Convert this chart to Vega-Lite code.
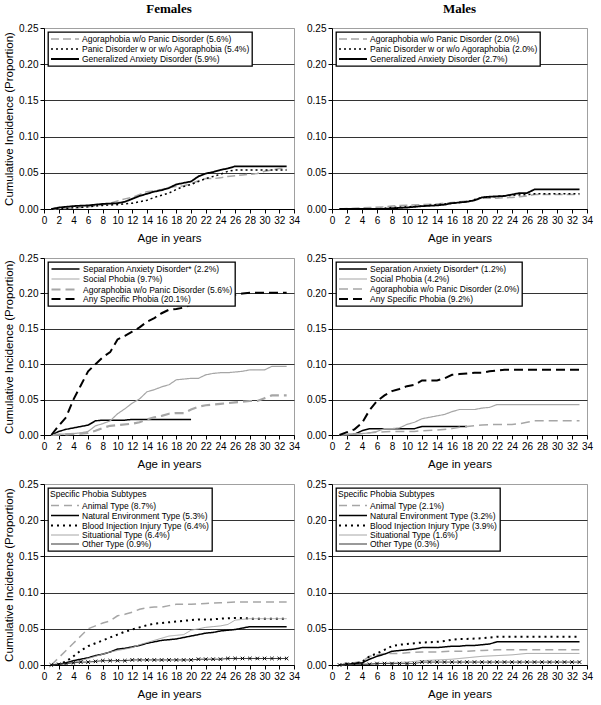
{
"$schema": "https://vega.github.io/schema/vega-lite/v6.json",
"padding": {"left": 3, "top": 2, "right": 2, "bottom": 2},
"columns": 2,
"spacing": {"row": 8, "column": 5},
"resolve": {"scale": {"x": "independent", "y": "independent", "color": "independent", "strokeDash": "independent", "strokeWidth": "independent"}, "legend": {"color": "independent", "strokeDash": "independent", "strokeWidth": "independent"}},
"datasets": {
"tl": [
{"s":"Agoraphobia w/o Panic Disorder (5.6%)","x":1,"y":0},{"s":"Agoraphobia w/o Panic Disorder (5.6%)","x":4,"y":0.001},{"s":"Agoraphobia w/o Panic Disorder (5.6%)","x":6,"y":0.003},{"s":"Agoraphobia w/o Panic Disorder (5.6%)","x":8,"y":0.006},{"s":"Agoraphobia w/o Panic Disorder (5.6%)","x":9,"y":0.008},{"s":"Agoraphobia w/o Panic Disorder (5.6%)","x":10,"y":0.011},{"s":"Agoraphobia w/o Panic Disorder (5.6%)","x":11,"y":0.014},{"s":"Agoraphobia w/o Panic Disorder (5.6%)","x":12,"y":0.016},{"s":"Agoraphobia w/o Panic Disorder (5.6%)","x":13,"y":0.02},{"s":"Agoraphobia w/o Panic Disorder (5.6%)","x":14,"y":0.024},{"s":"Agoraphobia w/o Panic Disorder (5.6%)","x":15,"y":0.025},{"s":"Agoraphobia w/o Panic Disorder (5.6%)","x":16,"y":0.027},{"s":"Agoraphobia w/o Panic Disorder (5.6%)","x":17,"y":0.03},{"s":"Agoraphobia w/o Panic Disorder (5.6%)","x":18,"y":0.031},{"s":"Agoraphobia w/o Panic Disorder (5.6%)","x":19,"y":0.032},{"s":"Agoraphobia w/o Panic Disorder (5.6%)","x":20,"y":0.035},{"s":"Agoraphobia w/o Panic Disorder (5.6%)","x":21,"y":0.039},{"s":"Agoraphobia w/o Panic Disorder (5.6%)","x":22,"y":0.042},{"s":"Agoraphobia w/o Panic Disorder (5.6%)","x":23,"y":0.042},{"s":"Agoraphobia w/o Panic Disorder (5.6%)","x":24,"y":0.043},{"s":"Agoraphobia w/o Panic Disorder (5.6%)","x":25,"y":0.045},{"s":"Agoraphobia w/o Panic Disorder (5.6%)","x":26,"y":0.046},{"s":"Agoraphobia w/o Panic Disorder (5.6%)","x":27,"y":0.047},{"s":"Agoraphobia w/o Panic Disorder (5.6%)","x":28,"y":0.048},{"s":"Agoraphobia w/o Panic Disorder (5.6%)","x":29,"y":0.049},{"s":"Agoraphobia w/o Panic Disorder (5.6%)","x":30,"y":0.052},{"s":"Agoraphobia w/o Panic Disorder (5.6%)","x":31,"y":0.054},{"s":"Agoraphobia w/o Panic Disorder (5.6%)","x":32,"y":0.056},{"s":"Agoraphobia w/o Panic Disorder (5.6%)","x":33,"y":0.056},
{"s":"Panic Disorder w or w/o Agoraphobia (5.4%)","x":1,"y":0},{"s":"Panic Disorder w or w/o Agoraphobia (5.4%)","x":3,"y":0.001},{"s":"Panic Disorder w or w/o Agoraphobia (5.4%)","x":6,"y":0.003},{"s":"Panic Disorder w or w/o Agoraphobia (5.4%)","x":8,"y":0.005},{"s":"Panic Disorder w or w/o Agoraphobia (5.4%)","x":10,"y":0.006},{"s":"Panic Disorder w or w/o Agoraphobia (5.4%)","x":11,"y":0.007},{"s":"Panic Disorder w or w/o Agoraphobia (5.4%)","x":12,"y":0.008},{"s":"Panic Disorder w or w/o Agoraphobia (5.4%)","x":13,"y":0.01},{"s":"Panic Disorder w or w/o Agoraphobia (5.4%)","x":14,"y":0.012},{"s":"Panic Disorder w or w/o Agoraphobia (5.4%)","x":15,"y":0.016},{"s":"Panic Disorder w or w/o Agoraphobia (5.4%)","x":16,"y":0.019},{"s":"Panic Disorder w or w/o Agoraphobia (5.4%)","x":17,"y":0.022},{"s":"Panic Disorder w or w/o Agoraphobia (5.4%)","x":18,"y":0.027},{"s":"Panic Disorder w or w/o Agoraphobia (5.4%)","x":19,"y":0.031},{"s":"Panic Disorder w or w/o Agoraphobia (5.4%)","x":20,"y":0.034},{"s":"Panic Disorder w or w/o Agoraphobia (5.4%)","x":21,"y":0.038},{"s":"Panic Disorder w or w/o Agoraphobia (5.4%)","x":22,"y":0.042},{"s":"Panic Disorder w or w/o Agoraphobia (5.4%)","x":23,"y":0.045},{"s":"Panic Disorder w or w/o Agoraphobia (5.4%)","x":24,"y":0.048},{"s":"Panic Disorder w or w/o Agoraphobia (5.4%)","x":25,"y":0.052},{"s":"Panic Disorder w or w/o Agoraphobia (5.4%)","x":26,"y":0.054},{"s":"Panic Disorder w or w/o Agoraphobia (5.4%)","x":33,"y":0.054},
{"s":"Generalized Anxiety Disorder (5.9%)","x":1,"y":0},{"s":"Generalized Anxiety Disorder (5.9%)","x":2,"y":0.002},{"s":"Generalized Anxiety Disorder (5.9%)","x":4,"y":0.004},{"s":"Generalized Anxiety Disorder (5.9%)","x":6,"y":0.005},{"s":"Generalized Anxiety Disorder (5.9%)","x":7,"y":0.006},{"s":"Generalized Anxiety Disorder (5.9%)","x":8,"y":0.007},{"s":"Generalized Anxiety Disorder (5.9%)","x":10,"y":0.008},{"s":"Generalized Anxiety Disorder (5.9%)","x":11,"y":0.01},{"s":"Generalized Anxiety Disorder (5.9%)","x":12,"y":0.014},{"s":"Generalized Anxiety Disorder (5.9%)","x":13,"y":0.018},{"s":"Generalized Anxiety Disorder (5.9%)","x":14,"y":0.021},{"s":"Generalized Anxiety Disorder (5.9%)","x":15,"y":0.024},{"s":"Generalized Anxiety Disorder (5.9%)","x":16,"y":0.026},{"s":"Generalized Anxiety Disorder (5.9%)","x":17,"y":0.029},{"s":"Generalized Anxiety Disorder (5.9%)","x":18,"y":0.034},{"s":"Generalized Anxiety Disorder (5.9%)","x":19,"y":0.036},{"s":"Generalized Anxiety Disorder (5.9%)","x":20,"y":0.038},{"s":"Generalized Anxiety Disorder (5.9%)","x":21,"y":0.045},{"s":"Generalized Anxiety Disorder (5.9%)","x":22,"y":0.049},{"s":"Generalized Anxiety Disorder (5.9%)","x":23,"y":0.051},{"s":"Generalized Anxiety Disorder (5.9%)","x":24,"y":0.054},{"s":"Generalized Anxiety Disorder (5.9%)","x":25,"y":0.056},{"s":"Generalized Anxiety Disorder (5.9%)","x":26,"y":0.059},{"s":"Generalized Anxiety Disorder (5.9%)","x":33,"y":0.059}
],
"tr": [
{"s":"Agoraphobia w/o Panic Disorder (2.0%)","x":1,"y":0},{"s":"Agoraphobia w/o Panic Disorder (2.0%)","x":3,"y":0.001},{"s":"Agoraphobia w/o Panic Disorder (2.0%)","x":5,"y":0.002},{"s":"Agoraphobia w/o Panic Disorder (2.0%)","x":7,"y":0.003},{"s":"Agoraphobia w/o Panic Disorder (2.0%)","x":8,"y":0.004},{"s":"Agoraphobia w/o Panic Disorder (2.0%)","x":9,"y":0.005},{"s":"Agoraphobia w/o Panic Disorder (2.0%)","x":12,"y":0.006},{"s":"Agoraphobia w/o Panic Disorder (2.0%)","x":14,"y":0.007},{"s":"Agoraphobia w/o Panic Disorder (2.0%)","x":16,"y":0.009},{"s":"Agoraphobia w/o Panic Disorder (2.0%)","x":17,"y":0.01},{"s":"Agoraphobia w/o Panic Disorder (2.0%)","x":19,"y":0.012},{"s":"Agoraphobia w/o Panic Disorder (2.0%)","x":20,"y":0.015},{"s":"Agoraphobia w/o Panic Disorder (2.0%)","x":22,"y":0.015},{"s":"Agoraphobia w/o Panic Disorder (2.0%)","x":24,"y":0.016},{"s":"Agoraphobia w/o Panic Disorder (2.0%)","x":25,"y":0.017},{"s":"Agoraphobia w/o Panic Disorder (2.0%)","x":26,"y":0.018},{"s":"Agoraphobia w/o Panic Disorder (2.0%)","x":27,"y":0.02},{"s":"Agoraphobia w/o Panic Disorder (2.0%)","x":33,"y":0.02},
{"s":"Panic Disorder w or w/o Agoraphobia (2.0%)","x":1,"y":0},{"s":"Panic Disorder w or w/o Agoraphobia (2.0%)","x":6,"y":0},{"s":"Panic Disorder w or w/o Agoraphobia (2.0%)","x":8,"y":0.002},{"s":"Panic Disorder w or w/o Agoraphobia (2.0%)","x":10,"y":0.003},{"s":"Panic Disorder w or w/o Agoraphobia (2.0%)","x":12,"y":0.004},{"s":"Panic Disorder w or w/o Agoraphobia (2.0%)","x":14,"y":0.006},{"s":"Panic Disorder w or w/o Agoraphobia (2.0%)","x":16,"y":0.008},{"s":"Panic Disorder w or w/o Agoraphobia (2.0%)","x":18,"y":0.01},{"s":"Panic Disorder w or w/o Agoraphobia (2.0%)","x":19,"y":0.013},{"s":"Panic Disorder w or w/o Agoraphobia (2.0%)","x":20,"y":0.016},{"s":"Panic Disorder w or w/o Agoraphobia (2.0%)","x":22,"y":0.017},{"s":"Panic Disorder w or w/o Agoraphobia (2.0%)","x":24,"y":0.019},{"s":"Panic Disorder w or w/o Agoraphobia (2.0%)","x":26,"y":0.02},{"s":"Panic Disorder w or w/o Agoraphobia (2.0%)","x":27,"y":0.021},{"s":"Panic Disorder w or w/o Agoraphobia (2.0%)","x":33,"y":0.021},
{"s":"Generalized Anxiety Disorder (2.7%)","x":1,"y":0},{"s":"Generalized Anxiety Disorder (2.7%)","x":7,"y":0},{"s":"Generalized Anxiety Disorder (2.7%)","x":8,"y":0.001},{"s":"Generalized Anxiety Disorder (2.7%)","x":10,"y":0.002},{"s":"Generalized Anxiety Disorder (2.7%)","x":11,"y":0.003},{"s":"Generalized Anxiety Disorder (2.7%)","x":12,"y":0.004},{"s":"Generalized Anxiety Disorder (2.7%)","x":14,"y":0.005},{"s":"Generalized Anxiety Disorder (2.7%)","x":15,"y":0.006},{"s":"Generalized Anxiety Disorder (2.7%)","x":16,"y":0.008},{"s":"Generalized Anxiety Disorder (2.7%)","x":17,"y":0.009},{"s":"Generalized Anxiety Disorder (2.7%)","x":18,"y":0.01},{"s":"Generalized Anxiety Disorder (2.7%)","x":19,"y":0.012},{"s":"Generalized Anxiety Disorder (2.7%)","x":20,"y":0.016},{"s":"Generalized Anxiety Disorder (2.7%)","x":21,"y":0.017},{"s":"Generalized Anxiety Disorder (2.7%)","x":23,"y":0.018},{"s":"Generalized Anxiety Disorder (2.7%)","x":24,"y":0.02},{"s":"Generalized Anxiety Disorder (2.7%)","x":25,"y":0.022},{"s":"Generalized Anxiety Disorder (2.7%)","x":26,"y":0.022},{"s":"Generalized Anxiety Disorder (2.7%)","x":27,"y":0.027},{"s":"Generalized Anxiety Disorder (2.7%)","x":33,"y":0.027}
],
"ml": [
{"s":"Separation Anxiety Disorder* (2.2%)","x":1,"y":0},{"s":"Separation Anxiety Disorder* (2.2%)","x":2,"y":0.005},{"s":"Separation Anxiety Disorder* (2.2%)","x":3,"y":0.008},{"s":"Separation Anxiety Disorder* (2.2%)","x":4,"y":0.01},{"s":"Separation Anxiety Disorder* (2.2%)","x":5,"y":0.012},{"s":"Separation Anxiety Disorder* (2.2%)","x":6,"y":0.014},{"s":"Separation Anxiety Disorder* (2.2%)","x":7,"y":0.02},{"s":"Separation Anxiety Disorder* (2.2%)","x":8,"y":0.021},{"s":"Separation Anxiety Disorder* (2.2%)","x":11,"y":0.021},{"s":"Separation Anxiety Disorder* (2.2%)","x":12,"y":0.022},{"s":"Separation Anxiety Disorder* (2.2%)","x":20,"y":0.022},
{"s":"Social Phobia (9.7%)","x":1,"y":0},{"s":"Social Phobia (9.7%)","x":2,"y":0.001},{"s":"Social Phobia (9.7%)","x":4,"y":0.002},{"s":"Social Phobia (9.7%)","x":5,"y":0.003},{"s":"Social Phobia (9.7%)","x":6,"y":0.005},{"s":"Social Phobia (9.7%)","x":7,"y":0.013},{"s":"Social Phobia (9.7%)","x":8,"y":0.016},{"s":"Social Phobia (9.7%)","x":9,"y":0.02},{"s":"Social Phobia (9.7%)","x":10,"y":0.03},{"s":"Social Phobia (9.7%)","x":11,"y":0.037},{"s":"Social Phobia (9.7%)","x":12,"y":0.045},{"s":"Social Phobia (9.7%)","x":13,"y":0.051},{"s":"Social Phobia (9.7%)","x":14,"y":0.061},{"s":"Social Phobia (9.7%)","x":15,"y":0.064},{"s":"Social Phobia (9.7%)","x":16,"y":0.068},{"s":"Social Phobia (9.7%)","x":17,"y":0.071},{"s":"Social Phobia (9.7%)","x":18,"y":0.078},{"s":"Social Phobia (9.7%)","x":19,"y":0.079},{"s":"Social Phobia (9.7%)","x":20,"y":0.08},{"s":"Social Phobia (9.7%)","x":21,"y":0.08},{"s":"Social Phobia (9.7%)","x":22,"y":0.085},{"s":"Social Phobia (9.7%)","x":23,"y":0.087},{"s":"Social Phobia (9.7%)","x":24,"y":0.088},{"s":"Social Phobia (9.7%)","x":25,"y":0.088},{"s":"Social Phobia (9.7%)","x":26,"y":0.089},{"s":"Social Phobia (9.7%)","x":27,"y":0.09},{"s":"Social Phobia (9.7%)","x":28,"y":0.092},{"s":"Social Phobia (9.7%)","x":30,"y":0.092},{"s":"Social Phobia (9.7%)","x":31,"y":0.097},{"s":"Social Phobia (9.7%)","x":33,"y":0.097},
{"s":"Agoraphobia w/o Panic Disorder (5.6%)","x":1,"y":0},{"s":"Agoraphobia w/o Panic Disorder (5.6%)","x":3,"y":0.001},{"s":"Agoraphobia w/o Panic Disorder (5.6%)","x":5,"y":0.002},{"s":"Agoraphobia w/o Panic Disorder (5.6%)","x":6,"y":0.003},{"s":"Agoraphobia w/o Panic Disorder (5.6%)","x":7,"y":0.006},{"s":"Agoraphobia w/o Panic Disorder (5.6%)","x":8,"y":0.01},{"s":"Agoraphobia w/o Panic Disorder (5.6%)","x":9,"y":0.013},{"s":"Agoraphobia w/o Panic Disorder (5.6%)","x":10,"y":0.014},{"s":"Agoraphobia w/o Panic Disorder (5.6%)","x":12,"y":0.016},{"s":"Agoraphobia w/o Panic Disorder (5.6%)","x":13,"y":0.018},{"s":"Agoraphobia w/o Panic Disorder (5.6%)","x":14,"y":0.022},{"s":"Agoraphobia w/o Panic Disorder (5.6%)","x":15,"y":0.025},{"s":"Agoraphobia w/o Panic Disorder (5.6%)","x":16,"y":0.027},{"s":"Agoraphobia w/o Panic Disorder (5.6%)","x":17,"y":0.03},{"s":"Agoraphobia w/o Panic Disorder (5.6%)","x":18,"y":0.031},{"s":"Agoraphobia w/o Panic Disorder (5.6%)","x":19,"y":0.031},{"s":"Agoraphobia w/o Panic Disorder (5.6%)","x":20,"y":0.036},{"s":"Agoraphobia w/o Panic Disorder (5.6%)","x":21,"y":0.04},{"s":"Agoraphobia w/o Panic Disorder (5.6%)","x":22,"y":0.042},{"s":"Agoraphobia w/o Panic Disorder (5.6%)","x":23,"y":0.043},{"s":"Agoraphobia w/o Panic Disorder (5.6%)","x":24,"y":0.044},{"s":"Agoraphobia w/o Panic Disorder (5.6%)","x":25,"y":0.045},{"s":"Agoraphobia w/o Panic Disorder (5.6%)","x":26,"y":0.046},{"s":"Agoraphobia w/o Panic Disorder (5.6%)","x":27,"y":0.047},{"s":"Agoraphobia w/o Panic Disorder (5.6%)","x":28,"y":0.048},{"s":"Agoraphobia w/o Panic Disorder (5.6%)","x":29,"y":0.048},{"s":"Agoraphobia w/o Panic Disorder (5.6%)","x":30,"y":0.052},{"s":"Agoraphobia w/o Panic Disorder (5.6%)","x":31,"y":0.056},{"s":"Agoraphobia w/o Panic Disorder (5.6%)","x":33,"y":0.056},
{"s":"Any Specific Phobia (20.1%)","x":1,"y":0},{"s":"Any Specific Phobia (20.1%)","x":2,"y":0.013},{"s":"Any Specific Phobia (20.1%)","x":3,"y":0.025},{"s":"Any Specific Phobia (20.1%)","x":4,"y":0.05},{"s":"Any Specific Phobia (20.1%)","x":5,"y":0.07},{"s":"Any Specific Phobia (20.1%)","x":6,"y":0.09},{"s":"Any Specific Phobia (20.1%)","x":7,"y":0.1},{"s":"Any Specific Phobia (20.1%)","x":8,"y":0.11},{"s":"Any Specific Phobia (20.1%)","x":9,"y":0.117},{"s":"Any Specific Phobia (20.1%)","x":10,"y":0.135},{"s":"Any Specific Phobia (20.1%)","x":11,"y":0.14},{"s":"Any Specific Phobia (20.1%)","x":12,"y":0.146},{"s":"Any Specific Phobia (20.1%)","x":13,"y":0.152},{"s":"Any Specific Phobia (20.1%)","x":14,"y":0.16},{"s":"Any Specific Phobia (20.1%)","x":15,"y":0.165},{"s":"Any Specific Phobia (20.1%)","x":16,"y":0.172},{"s":"Any Specific Phobia (20.1%)","x":17,"y":0.177},{"s":"Any Specific Phobia (20.1%)","x":18,"y":0.178},{"s":"Any Specific Phobia (20.1%)","x":19,"y":0.18},{"s":"Any Specific Phobia (20.1%)","x":20,"y":0.184},{"s":"Any Specific Phobia (20.1%)","x":21,"y":0.186},{"s":"Any Specific Phobia (20.1%)","x":22,"y":0.187},{"s":"Any Specific Phobia (20.1%)","x":23,"y":0.188},{"s":"Any Specific Phobia (20.1%)","x":24,"y":0.19},{"s":"Any Specific Phobia (20.1%)","x":25,"y":0.193},{"s":"Any Specific Phobia (20.1%)","x":26,"y":0.198},{"s":"Any Specific Phobia (20.1%)","x":27,"y":0.2},{"s":"Any Specific Phobia (20.1%)","x":28,"y":0.201},{"s":"Any Specific Phobia (20.1%)","x":33,"y":0.201}
],
"mr": [
{"s":"Separation Anxiety Disorder* (1.2%)","x":1,"y":0},{"s":"Separation Anxiety Disorder* (1.2%)","x":3,"y":0.001},{"s":"Separation Anxiety Disorder* (1.2%)","x":4,"y":0.006},{"s":"Separation Anxiety Disorder* (1.2%)","x":5,"y":0.009},{"s":"Separation Anxiety Disorder* (1.2%)","x":11,"y":0.009},{"s":"Separation Anxiety Disorder* (1.2%)","x":12,"y":0.012},{"s":"Separation Anxiety Disorder* (1.2%)","x":18,"y":0.012},
{"s":"Social Phobia (4.2%)","x":1,"y":0},{"s":"Social Phobia (4.2%)","x":3,"y":0.001},{"s":"Social Phobia (4.2%)","x":5,"y":0.003},{"s":"Social Phobia (4.2%)","x":6,"y":0.005},{"s":"Social Phobia (4.2%)","x":7,"y":0.009},{"s":"Social Phobia (4.2%)","x":8,"y":0.009},{"s":"Social Phobia (4.2%)","x":9,"y":0.01},{"s":"Social Phobia (4.2%)","x":10,"y":0.015},{"s":"Social Phobia (4.2%)","x":11,"y":0.018},{"s":"Social Phobia (4.2%)","x":12,"y":0.023},{"s":"Social Phobia (4.2%)","x":13,"y":0.025},{"s":"Social Phobia (4.2%)","x":14,"y":0.027},{"s":"Social Phobia (4.2%)","x":15,"y":0.029},{"s":"Social Phobia (4.2%)","x":16,"y":0.033},{"s":"Social Phobia (4.2%)","x":17,"y":0.036},{"s":"Social Phobia (4.2%)","x":19,"y":0.036},{"s":"Social Phobia (4.2%)","x":20,"y":0.038},{"s":"Social Phobia (4.2%)","x":21,"y":0.039},{"s":"Social Phobia (4.2%)","x":22,"y":0.043},{"s":"Social Phobia (4.2%)","x":33,"y":0.043},
{"s":"Agoraphobia w/o Panic Disorder (2.0%)","x":1,"y":0},{"s":"Agoraphobia w/o Panic Disorder (2.0%)","x":4,"y":0.002},{"s":"Agoraphobia w/o Panic Disorder (2.0%)","x":6,"y":0.004},{"s":"Agoraphobia w/o Panic Disorder (2.0%)","x":8,"y":0.005},{"s":"Agoraphobia w/o Panic Disorder (2.0%)","x":11,"y":0.005},{"s":"Agoraphobia w/o Panic Disorder (2.0%)","x":12,"y":0.006},{"s":"Agoraphobia w/o Panic Disorder (2.0%)","x":14,"y":0.007},{"s":"Agoraphobia w/o Panic Disorder (2.0%)","x":16,"y":0.009},{"s":"Agoraphobia w/o Panic Disorder (2.0%)","x":17,"y":0.011},{"s":"Agoraphobia w/o Panic Disorder (2.0%)","x":18,"y":0.012},{"s":"Agoraphobia w/o Panic Disorder (2.0%)","x":19,"y":0.013},{"s":"Agoraphobia w/o Panic Disorder (2.0%)","x":20,"y":0.014},{"s":"Agoraphobia w/o Panic Disorder (2.0%)","x":22,"y":0.015},{"s":"Agoraphobia w/o Panic Disorder (2.0%)","x":24,"y":0.015},{"s":"Agoraphobia w/o Panic Disorder (2.0%)","x":25,"y":0.016},{"s":"Agoraphobia w/o Panic Disorder (2.0%)","x":26,"y":0.018},{"s":"Agoraphobia w/o Panic Disorder (2.0%)","x":27,"y":0.02},{"s":"Agoraphobia w/o Panic Disorder (2.0%)","x":33,"y":0.02},
{"s":"Any Specific Phobia (9.2%)","x":1,"y":0},{"s":"Any Specific Phobia (9.2%)","x":2,"y":0.004},{"s":"Any Specific Phobia (9.2%)","x":3,"y":0.008},{"s":"Any Specific Phobia (9.2%)","x":4,"y":0.017},{"s":"Any Specific Phobia (9.2%)","x":5,"y":0.035},{"s":"Any Specific Phobia (9.2%)","x":6,"y":0.048},{"s":"Any Specific Phobia (9.2%)","x":7,"y":0.056},{"s":"Any Specific Phobia (9.2%)","x":8,"y":0.062},{"s":"Any Specific Phobia (9.2%)","x":9,"y":0.065},{"s":"Any Specific Phobia (9.2%)","x":10,"y":0.069},{"s":"Any Specific Phobia (9.2%)","x":11,"y":0.071},{"s":"Any Specific Phobia (9.2%)","x":12,"y":0.077},{"s":"Any Specific Phobia (9.2%)","x":14,"y":0.077},{"s":"Any Specific Phobia (9.2%)","x":15,"y":0.08},{"s":"Any Specific Phobia (9.2%)","x":16,"y":0.085},{"s":"Any Specific Phobia (9.2%)","x":17,"y":0.086},{"s":"Any Specific Phobia (9.2%)","x":18,"y":0.087},{"s":"Any Specific Phobia (9.2%)","x":19,"y":0.088},{"s":"Any Specific Phobia (9.2%)","x":20,"y":0.088},{"s":"Any Specific Phobia (9.2%)","x":21,"y":0.09},{"s":"Any Specific Phobia (9.2%)","x":22,"y":0.091},{"s":"Any Specific Phobia (9.2%)","x":23,"y":0.092},{"s":"Any Specific Phobia (9.2%)","x":33,"y":0.092}
],
"bl": [
{"s":"Animal Type (8.7%)","x":1,"y":0},{"s":"Animal Type (8.7%)","x":2,"y":0.01},{"s":"Animal Type (8.7%)","x":3,"y":0.02},{"s":"Animal Type (8.7%)","x":4,"y":0.03},{"s":"Animal Type (8.7%)","x":5,"y":0.04},{"s":"Animal Type (8.7%)","x":6,"y":0.05},{"s":"Animal Type (8.7%)","x":7,"y":0.054},{"s":"Animal Type (8.7%)","x":8,"y":0.058},{"s":"Animal Type (8.7%)","x":9,"y":0.061},{"s":"Animal Type (8.7%)","x":10,"y":0.068},{"s":"Animal Type (8.7%)","x":11,"y":0.07},{"s":"Animal Type (8.7%)","x":12,"y":0.073},{"s":"Animal Type (8.7%)","x":13,"y":0.077},{"s":"Animal Type (8.7%)","x":14,"y":0.079},{"s":"Animal Type (8.7%)","x":15,"y":0.08},{"s":"Animal Type (8.7%)","x":16,"y":0.08},{"s":"Animal Type (8.7%)","x":17,"y":0.082},{"s":"Animal Type (8.7%)","x":18,"y":0.084},{"s":"Animal Type (8.7%)","x":20,"y":0.084},{"s":"Animal Type (8.7%)","x":22,"y":0.085},{"s":"Animal Type (8.7%)","x":24,"y":0.086},{"s":"Animal Type (8.7%)","x":26,"y":0.087},{"s":"Animal Type (8.7%)","x":33,"y":0.087},
{"s":"Natural Environment Type (5.3%)","x":1,"y":0},{"s":"Natural Environment Type (5.3%)","x":2,"y":0.001},{"s":"Natural Environment Type (5.3%)","x":3,"y":0.003},{"s":"Natural Environment Type (5.3%)","x":4,"y":0.006},{"s":"Natural Environment Type (5.3%)","x":5,"y":0.008},{"s":"Natural Environment Type (5.3%)","x":6,"y":0.01},{"s":"Natural Environment Type (5.3%)","x":7,"y":0.013},{"s":"Natural Environment Type (5.3%)","x":8,"y":0.015},{"s":"Natural Environment Type (5.3%)","x":9,"y":0.018},{"s":"Natural Environment Type (5.3%)","x":10,"y":0.022},{"s":"Natural Environment Type (5.3%)","x":11,"y":0.023},{"s":"Natural Environment Type (5.3%)","x":12,"y":0.025},{"s":"Natural Environment Type (5.3%)","x":13,"y":0.027},{"s":"Natural Environment Type (5.3%)","x":14,"y":0.03},{"s":"Natural Environment Type (5.3%)","x":15,"y":0.032},{"s":"Natural Environment Type (5.3%)","x":16,"y":0.034},{"s":"Natural Environment Type (5.3%)","x":17,"y":0.035},{"s":"Natural Environment Type (5.3%)","x":18,"y":0.036},{"s":"Natural Environment Type (5.3%)","x":19,"y":0.038},{"s":"Natural Environment Type (5.3%)","x":20,"y":0.04},{"s":"Natural Environment Type (5.3%)","x":21,"y":0.042},{"s":"Natural Environment Type (5.3%)","x":22,"y":0.044},{"s":"Natural Environment Type (5.3%)","x":23,"y":0.045},{"s":"Natural Environment Type (5.3%)","x":24,"y":0.047},{"s":"Natural Environment Type (5.3%)","x":25,"y":0.048},{"s":"Natural Environment Type (5.3%)","x":26,"y":0.049},{"s":"Natural Environment Type (5.3%)","x":27,"y":0.051},{"s":"Natural Environment Type (5.3%)","x":28,"y":0.053},{"s":"Natural Environment Type (5.3%)","x":33,"y":0.053},
{"s":"Blood Injection Injury Type (6.4%)","x":1,"y":0},{"s":"Blood Injection Injury Type (6.4%)","x":2,"y":0.001},{"s":"Blood Injection Injury Type (6.4%)","x":3,"y":0.005},{"s":"Blood Injection Injury Type (6.4%)","x":4,"y":0.012},{"s":"Blood Injection Injury Type (6.4%)","x":5,"y":0.02},{"s":"Blood Injection Injury Type (6.4%)","x":6,"y":0.026},{"s":"Blood Injection Injury Type (6.4%)","x":7,"y":0.03},{"s":"Blood Injection Injury Type (6.4%)","x":8,"y":0.034},{"s":"Blood Injection Injury Type (6.4%)","x":9,"y":0.038},{"s":"Blood Injection Injury Type (6.4%)","x":10,"y":0.042},{"s":"Blood Injection Injury Type (6.4%)","x":11,"y":0.046},{"s":"Blood Injection Injury Type (6.4%)","x":12,"y":0.049},{"s":"Blood Injection Injury Type (6.4%)","x":13,"y":0.052},{"s":"Blood Injection Injury Type (6.4%)","x":14,"y":0.055},{"s":"Blood Injection Injury Type (6.4%)","x":15,"y":0.057},{"s":"Blood Injection Injury Type (6.4%)","x":16,"y":0.058},{"s":"Blood Injection Injury Type (6.4%)","x":17,"y":0.059},{"s":"Blood Injection Injury Type (6.4%)","x":18,"y":0.06},{"s":"Blood Injection Injury Type (6.4%)","x":19,"y":0.061},{"s":"Blood Injection Injury Type (6.4%)","x":20,"y":0.062},{"s":"Blood Injection Injury Type (6.4%)","x":21,"y":0.063},{"s":"Blood Injection Injury Type (6.4%)","x":23,"y":0.063},{"s":"Blood Injection Injury Type (6.4%)","x":24,"y":0.064},{"s":"Blood Injection Injury Type (6.4%)","x":26,"y":0.065},{"s":"Blood Injection Injury Type (6.4%)","x":27,"y":0.065},{"s":"Blood Injection Injury Type (6.4%)","x":28,"y":0.064},{"s":"Blood Injection Injury Type (6.4%)","x":33,"y":0.064},
{"s":"Situational Type (6.4%)","x":1,"y":0},{"s":"Situational Type (6.4%)","x":3,"y":0.002},{"s":"Situational Type (6.4%)","x":4,"y":0.004},{"s":"Situational Type (6.4%)","x":5,"y":0.006},{"s":"Situational Type (6.4%)","x":6,"y":0.009},{"s":"Situational Type (6.4%)","x":7,"y":0.012},{"s":"Situational Type (6.4%)","x":8,"y":0.015},{"s":"Situational Type (6.4%)","x":9,"y":0.018},{"s":"Situational Type (6.4%)","x":10,"y":0.02},{"s":"Situational Type (6.4%)","x":11,"y":0.022},{"s":"Situational Type (6.4%)","x":12,"y":0.024},{"s":"Situational Type (6.4%)","x":13,"y":0.028},{"s":"Situational Type (6.4%)","x":14,"y":0.031},{"s":"Situational Type (6.4%)","x":15,"y":0.034},{"s":"Situational Type (6.4%)","x":16,"y":0.037},{"s":"Situational Type (6.4%)","x":17,"y":0.04},{"s":"Situational Type (6.4%)","x":18,"y":0.041},{"s":"Situational Type (6.4%)","x":19,"y":0.042},{"s":"Situational Type (6.4%)","x":20,"y":0.048},{"s":"Situational Type (6.4%)","x":21,"y":0.05},{"s":"Situational Type (6.4%)","x":22,"y":0.052},{"s":"Situational Type (6.4%)","x":23,"y":0.053},{"s":"Situational Type (6.4%)","x":24,"y":0.054},{"s":"Situational Type (6.4%)","x":25,"y":0.056},{"s":"Situational Type (6.4%)","x":26,"y":0.062},{"s":"Situational Type (6.4%)","x":27,"y":0.063},{"s":"Situational Type (6.4%)","x":28,"y":0.064},{"s":"Situational Type (6.4%)","x":33,"y":0.064},
{"s":"Other Type (0.9%)","x":1,"y":0},{"s":"Other Type (0.9%)","x":2,"y":0.001},{"s":"Other Type (0.9%)","x":3,"y":0.002},{"s":"Other Type (0.9%)","x":4,"y":0.003},{"s":"Other Type (0.9%)","x":5,"y":0.004},{"s":"Other Type (0.9%)","x":6,"y":0.004},{"s":"Other Type (0.9%)","x":7,"y":0.005},{"s":"Other Type (0.9%)","x":8,"y":0.006},{"s":"Other Type (0.9%)","x":9,"y":0.006},{"s":"Other Type (0.9%)","x":10,"y":0.006},{"s":"Other Type (0.9%)","x":11,"y":0.006},{"s":"Other Type (0.9%)","x":12,"y":0.007},{"s":"Other Type (0.9%)","x":13,"y":0.007},{"s":"Other Type (0.9%)","x":14,"y":0.007},{"s":"Other Type (0.9%)","x":15,"y":0.007},{"s":"Other Type (0.9%)","x":16,"y":0.007},{"s":"Other Type (0.9%)","x":17,"y":0.007},{"s":"Other Type (0.9%)","x":18,"y":0.007},{"s":"Other Type (0.9%)","x":19,"y":0.007},{"s":"Other Type (0.9%)","x":20,"y":0.007},{"s":"Other Type (0.9%)","x":21,"y":0.008},{"s":"Other Type (0.9%)","x":22,"y":0.008},{"s":"Other Type (0.9%)","x":23,"y":0.008},{"s":"Other Type (0.9%)","x":24,"y":0.008},{"s":"Other Type (0.9%)","x":25,"y":0.009},{"s":"Other Type (0.9%)","x":26,"y":0.009},{"s":"Other Type (0.9%)","x":27,"y":0.009},{"s":"Other Type (0.9%)","x":28,"y":0.009},{"s":"Other Type (0.9%)","x":29,"y":0.009},{"s":"Other Type (0.9%)","x":30,"y":0.009},{"s":"Other Type (0.9%)","x":31,"y":0.009},{"s":"Other Type (0.9%)","x":32,"y":0.009},{"s":"Other Type (0.9%)","x":33,"y":0.009}
],
"br": [
{"s":"Animal Type (2.1%)","x":1,"y":0},{"s":"Animal Type (2.1%)","x":4,"y":0.005},{"s":"Animal Type (2.1%)","x":5,"y":0.012},{"s":"Animal Type (2.1%)","x":6,"y":0.014},{"s":"Animal Type (2.1%)","x":7,"y":0.016},{"s":"Animal Type (2.1%)","x":9,"y":0.016},{"s":"Animal Type (2.1%)","x":10,"y":0.017},{"s":"Animal Type (2.1%)","x":12,"y":0.018},{"s":"Animal Type (2.1%)","x":14,"y":0.018},{"s":"Animal Type (2.1%)","x":16,"y":0.019},{"s":"Animal Type (2.1%)","x":18,"y":0.019},{"s":"Animal Type (2.1%)","x":20,"y":0.02},{"s":"Animal Type (2.1%)","x":22,"y":0.021},{"s":"Animal Type (2.1%)","x":33,"y":0.021},
{"s":"Natural Environment Type (3.2%)","x":1,"y":0},{"s":"Natural Environment Type (3.2%)","x":2,"y":0.001},{"s":"Natural Environment Type (3.2%)","x":3,"y":0.002},{"s":"Natural Environment Type (3.2%)","x":4,"y":0.003},{"s":"Natural Environment Type (3.2%)","x":5,"y":0.008},{"s":"Natural Environment Type (3.2%)","x":6,"y":0.012},{"s":"Natural Environment Type (3.2%)","x":7,"y":0.015},{"s":"Natural Environment Type (3.2%)","x":8,"y":0.019},{"s":"Natural Environment Type (3.2%)","x":9,"y":0.02},{"s":"Natural Environment Type (3.2%)","x":10,"y":0.021},{"s":"Natural Environment Type (3.2%)","x":11,"y":0.022},{"s":"Natural Environment Type (3.2%)","x":12,"y":0.024},{"s":"Natural Environment Type (3.2%)","x":14,"y":0.024},{"s":"Natural Environment Type (3.2%)","x":15,"y":0.025},{"s":"Natural Environment Type (3.2%)","x":16,"y":0.026},{"s":"Natural Environment Type (3.2%)","x":17,"y":0.026},{"s":"Natural Environment Type (3.2%)","x":18,"y":0.027},{"s":"Natural Environment Type (3.2%)","x":19,"y":0.027},{"s":"Natural Environment Type (3.2%)","x":20,"y":0.028},{"s":"Natural Environment Type (3.2%)","x":21,"y":0.029},{"s":"Natural Environment Type (3.2%)","x":22,"y":0.032},{"s":"Natural Environment Type (3.2%)","x":33,"y":0.032},
{"s":"Blood Injection Injury Type (3.9%)","x":1,"y":0},{"s":"Blood Injection Injury Type (3.9%)","x":2,"y":0.002},{"s":"Blood Injection Injury Type (3.9%)","x":3,"y":0.002},{"s":"Blood Injection Injury Type (3.9%)","x":4,"y":0.004},{"s":"Blood Injection Injury Type (3.9%)","x":5,"y":0.012},{"s":"Blood Injection Injury Type (3.9%)","x":6,"y":0.016},{"s":"Blood Injection Injury Type (3.9%)","x":7,"y":0.021},{"s":"Blood Injection Injury Type (3.9%)","x":8,"y":0.026},{"s":"Blood Injection Injury Type (3.9%)","x":9,"y":0.028},{"s":"Blood Injection Injury Type (3.9%)","x":10,"y":0.029},{"s":"Blood Injection Injury Type (3.9%)","x":11,"y":0.03},{"s":"Blood Injection Injury Type (3.9%)","x":12,"y":0.031},{"s":"Blood Injection Injury Type (3.9%)","x":14,"y":0.032},{"s":"Blood Injection Injury Type (3.9%)","x":15,"y":0.033},{"s":"Blood Injection Injury Type (3.9%)","x":16,"y":0.035},{"s":"Blood Injection Injury Type (3.9%)","x":17,"y":0.036},{"s":"Blood Injection Injury Type (3.9%)","x":18,"y":0.036},{"s":"Blood Injection Injury Type (3.9%)","x":20,"y":0.037},{"s":"Blood Injection Injury Type (3.9%)","x":22,"y":0.039},{"s":"Blood Injection Injury Type (3.9%)","x":33,"y":0.039},
{"s":"Situational Type (1.6%)","x":1,"y":0},{"s":"Situational Type (1.6%)","x":4,"y":0.001},{"s":"Situational Type (1.6%)","x":6,"y":0.002},{"s":"Situational Type (1.6%)","x":8,"y":0.003},{"s":"Situational Type (1.6%)","x":10,"y":0.004},{"s":"Situational Type (1.6%)","x":11,"y":0.005},{"s":"Situational Type (1.6%)","x":12,"y":0.006},{"s":"Situational Type (1.6%)","x":14,"y":0.007},{"s":"Situational Type (1.6%)","x":16,"y":0.008},{"s":"Situational Type (1.6%)","x":18,"y":0.01},{"s":"Situational Type (1.6%)","x":20,"y":0.012},{"s":"Situational Type (1.6%)","x":22,"y":0.013},{"s":"Situational Type (1.6%)","x":24,"y":0.014},{"s":"Situational Type (1.6%)","x":26,"y":0.016},{"s":"Situational Type (1.6%)","x":33,"y":0.016},
{"s":"Other Type (0.3%)","x":1,"y":0},{"s":"Other Type (0.3%)","x":2,"y":0.001},{"s":"Other Type (0.3%)","x":3,"y":0.001},{"s":"Other Type (0.3%)","x":4,"y":0.001},{"s":"Other Type (0.3%)","x":5,"y":0.001},{"s":"Other Type (0.3%)","x":6,"y":0.002},{"s":"Other Type (0.3%)","x":7,"y":0.002},{"s":"Other Type (0.3%)","x":8,"y":0.002},{"s":"Other Type (0.3%)","x":9,"y":0.002},{"s":"Other Type (0.3%)","x":10,"y":0.002},{"s":"Other Type (0.3%)","x":11,"y":0.002},{"s":"Other Type (0.3%)","x":12,"y":0.004},{"s":"Other Type (0.3%)","x":13,"y":0.004},{"s":"Other Type (0.3%)","x":14,"y":0.004},{"s":"Other Type (0.3%)","x":15,"y":0.004},{"s":"Other Type (0.3%)","x":16,"y":0.004},{"s":"Other Type (0.3%)","x":17,"y":0.004},{"s":"Other Type (0.3%)","x":18,"y":0.004},{"s":"Other Type (0.3%)","x":19,"y":0.004},{"s":"Other Type (0.3%)","x":20,"y":0.004},{"s":"Other Type (0.3%)","x":21,"y":0.004},{"s":"Other Type (0.3%)","x":22,"y":0.004},{"s":"Other Type (0.3%)","x":23,"y":0.004},{"s":"Other Type (0.3%)","x":24,"y":0.004},{"s":"Other Type (0.3%)","x":25,"y":0.004},{"s":"Other Type (0.3%)","x":26,"y":0.004},{"s":"Other Type (0.3%)","x":27,"y":0.004},{"s":"Other Type (0.3%)","x":28,"y":0.004},{"s":"Other Type (0.3%)","x":29,"y":0.004},{"s":"Other Type (0.3%)","x":30,"y":0.004},{"s":"Other Type (0.3%)","x":31,"y":0.004},{"s":"Other Type (0.3%)","x":32,"y":0.004},{"s":"Other Type (0.3%)","x":33,"y":0.004}
]
},
"concat": [
{
"title": "Females", "width": 250, "height": 181, "data": {"name": "tl"},
"mark": {"type": "line"},
"encoding": {
"x": {"field": "x", "type": "quantitative", "scale": {"domain": [0, 34], "nice": false}, "axis": {"values": [0,2,4,6,8,10,12,14,16,18,20,22,24,26,28,30,32,34], "title": "Age in years"}},
"y": {"field": "y", "type": "quantitative", "scale": {"domain": [0, 0.25], "nice": false}, "axis": {"values": [0,0.05,0.1,0.15,0.2,0.25], "format": ".2f", "title": "Cumulative Incidence (Proportion)", "gridColor": {"condition": {"test": "datum.value >= 0.249", "value": "#a0a0a0"}, "value": "#333333"}}},
"color": {"field": "s", "type": "nominal", "scale": {"domain": ["Agoraphobia w/o Panic Disorder (5.6%)","Panic Disorder w or w/o Agoraphobia (5.4%)","Generalized Anxiety Disorder (5.9%)"], "range": ["#a6a6a6","#000000","#000000"]}, "legend": {"title": null}},
"strokeDash": {"field": "s", "type": "nominal", "scale": {"domain": ["Agoraphobia w/o Panic Disorder (5.6%)","Panic Disorder w or w/o Agoraphobia (5.4%)","Generalized Anxiety Disorder (5.9%)"], "range": [[8,4],[2,3],[1,0]]}, "legend": {"title": null}},
"strokeWidth": {"field": "s", "type": "nominal", "scale": {"type": "ordinal", "domain": ["Agoraphobia w/o Panic Disorder (5.6%)","Panic Disorder w or w/o Agoraphobia (5.4%)","Generalized Anxiety Disorder (5.9%)"], "range": [1.5,1.5,1.8]}, "legend": {"title": null}}
}
},
{
"title": "Males", "width": 255, "height": 181, "data": {"name": "tr"},
"mark": {"type": "line"},
"encoding": {
"x": {"field": "x", "type": "quantitative", "scale": {"domain": [0, 34], "nice": false}, "axis": {"values": [0,2,4,6,8,10,12,14,16,18,20,22,24,26,28,30,32,34], "title": "Age in years"}},
"y": {"field": "y", "type": "quantitative", "scale": {"domain": [0, 0.25], "nice": false}, "axis": {"values": [0,0.05,0.1,0.15,0.2,0.25], "format": ".2f", "title": null, "gridColor": {"condition": {"test": "datum.value >= 0.249", "value": "#a0a0a0"}, "value": "#333333"}}},
"color": {"field": "s", "type": "nominal", "scale": {"domain": ["Agoraphobia w/o Panic Disorder (2.0%)","Panic Disorder w or w/o Agoraphobia (2.0%)","Generalized Anxiety Disorder (2.7%)"], "range": ["#a6a6a6","#000000","#000000"]}, "legend": {"title": null}},
"strokeDash": {"field": "s", "type": "nominal", "scale": {"domain": ["Agoraphobia w/o Panic Disorder (2.0%)","Panic Disorder w or w/o Agoraphobia (2.0%)","Generalized Anxiety Disorder (2.7%)"], "range": [[8,4],[2,3],[1,0]]}, "legend": {"title": null}},
"strokeWidth": {"field": "s", "type": "nominal", "scale": {"type": "ordinal", "domain": ["Agoraphobia w/o Panic Disorder (2.0%)","Panic Disorder w or w/o Agoraphobia (2.0%)","Generalized Anxiety Disorder (2.7%)"], "range": [1.5,1.5,1.8]}, "legend": {"title": null}}
}
},
{
"width": 250, "height": 177, "data": {"name": "ml"},
"mark": {"type": "line"},
"encoding": {
"x": {"field": "x", "type": "quantitative", "scale": {"domain": [0, 34], "nice": false}, "axis": {"values": [0,2,4,6,8,10,12,14,16,18,20,22,24,26,28,30,32,34], "title": "Age in years"}},
"y": {"field": "y", "type": "quantitative", "scale": {"domain": [0, 0.25], "nice": false}, "axis": {"values": [0,0.05,0.1,0.15,0.2,0.25], "format": ".2f", "title": "Cumulative Incidence (Proportion)", "gridColor": {"condition": {"test": "datum.value >= 0.249", "value": "#a0a0a0"}, "value": "#333333"}}},
"color": {"field": "s", "type": "nominal", "scale": {"domain": ["Separation Anxiety Disorder* (2.2%)","Social Phobia (9.7%)","Agoraphobia w/o Panic Disorder (5.6%)","Any Specific Phobia (20.1%)"], "range": ["#000000","#a6a6a6","#a6a6a6","#000000"]}, "legend": {"title": null}},
"strokeDash": {"field": "s", "type": "nominal", "scale": {"domain": ["Separation Anxiety Disorder* (2.2%)","Social Phobia (9.7%)","Agoraphobia w/o Panic Disorder (5.6%)","Any Specific Phobia (20.1%)"], "range": [[1,0],[1,0],[9,5],[9,5]]}, "legend": {"title": null}},
"strokeWidth": {"field": "s", "type": "nominal", "scale": {"type": "ordinal", "domain": ["Separation Anxiety Disorder* (2.2%)","Social Phobia (9.7%)","Agoraphobia w/o Panic Disorder (5.6%)","Any Specific Phobia (20.1%)"], "range": [1.5,1.2,2.2,2]}, "legend": {"title": null}}
}
},
{
"width": 255, "height": 177, "data": {"name": "mr"},
"mark": {"type": "line"},
"encoding": {
"x": {"field": "x", "type": "quantitative", "scale": {"domain": [0, 34], "nice": false}, "axis": {"values": [0,2,4,6,8,10,12,14,16,18,20,22,24,26,28,30,32,34], "title": "Age in years"}},
"y": {"field": "y", "type": "quantitative", "scale": {"domain": [0, 0.25], "nice": false}, "axis": {"values": [0,0.05,0.1,0.15,0.2,0.25], "format": ".2f", "title": null, "gridColor": {"condition": {"test": "datum.value >= 0.249", "value": "#a0a0a0"}, "value": "#333333"}}},
"color": {"field": "s", "type": "nominal", "scale": {"domain": ["Separation Anxiety Disorder* (1.2%)","Social Phobia (4.2%)","Agoraphobia w/o Panic Disorder (2.0%)","Any Specific Phobia (9.2%)"], "range": ["#000000","#a6a6a6","#a6a6a6","#000000"]}, "legend": {"title": null}},
"strokeDash": {"field": "s", "type": "nominal", "scale": {"domain": ["Separation Anxiety Disorder* (1.2%)","Social Phobia (4.2%)","Agoraphobia w/o Panic Disorder (2.0%)","Any Specific Phobia (9.2%)"], "range": [[1,0],[1,0],[9,5],[9,5]]}, "legend": {"title": null}},
"strokeWidth": {"field": "s", "type": "nominal", "scale": {"type": "ordinal", "domain": ["Separation Anxiety Disorder* (1.2%)","Social Phobia (4.2%)","Agoraphobia w/o Panic Disorder (2.0%)","Any Specific Phobia (9.2%)"], "range": [1.5,1.2,1.5,2]}, "legend": {"title": null}}
}
},
{
"width": 250, "height": 181, "data": {"name": "bl"},
"encoding": {
"x": {"field": "x", "type": "quantitative", "scale": {"domain": [0, 34], "nice": false}, "axis": {"values": [0,2,4,6,8,10,12,14,16,18,20,22,24,26,28,30,32,34], "title": "Age in years"}},
"y": {"field": "y", "type": "quantitative", "scale": {"domain": [0, 0.25], "nice": false}, "axis": {"values": [0,0.05,0.1,0.15,0.2,0.25], "format": ".2f", "title": "Cumulative Incidence (Proportion)", "gridColor": {"condition": {"test": "datum.value >= 0.249", "value": "#a0a0a0"}, "value": "#333333"}}}
},
"layer": [
{"mark": {"type": "line"},
"encoding": {
"color": {"field": "s", "type": "nominal", "scale": {"domain": ["Animal Type (8.7%)","Natural Environment Type (5.3%)","Blood Injection Injury Type (6.4%)","Situational Type (6.4%)","Other Type (0.9%)"], "range": ["#a6a6a6","#000000","#000000","#a6a6a6","#000000"]}, "legend": {"title": "Specific Phobia Subtypes"}},
"strokeDash": {"field": "s", "type": "nominal", "scale": {"domain": ["Animal Type (8.7%)","Natural Environment Type (5.3%)","Blood Injection Injury Type (6.4%)","Situational Type (6.4%)","Other Type (0.9%)"], "range": [[8,5],[1,0],[2,4],[1,0],[1,0]]}, "legend": {"title": "Specific Phobia Subtypes"}},
"strokeWidth": {"field": "s", "type": "nominal", "scale": {"type": "ordinal", "domain": ["Animal Type (8.7%)","Natural Environment Type (5.3%)","Blood Injection Injury Type (6.4%)","Situational Type (6.4%)","Other Type (0.9%)"], "range": [1.5,1.5,2,1,0.8]}, "legend": {"title": "Specific Phobia Subtypes"}}
}},
{"transform": [{"filter": {"field": "s", "oneOf": ["Other Type (0.9%)"]}}],
"mark": {"type": "point", "shape": "M-1,-1L1,1M-1,1L1,-1", "filled": false, "color": "#000000", "size": 12, "strokeWidth": 1, "opacity": 1}}
]
},
{
"width": 255, "height": 181, "data": {"name": "br"},
"encoding": {
"x": {"field": "x", "type": "quantitative", "scale": {"domain": [0, 34], "nice": false}, "axis": {"values": [0,2,4,6,8,10,12,14,16,18,20,22,24,26,28,30,32,34], "title": "Age in years"}},
"y": {"field": "y", "type": "quantitative", "scale": {"domain": [0, 0.25], "nice": false}, "axis": {"values": [0,0.05,0.1,0.15,0.2,0.25], "format": ".2f", "title": null, "gridColor": {"condition": {"test": "datum.value >= 0.249", "value": "#a0a0a0"}, "value": "#333333"}}}
},
"layer": [
{"mark": {"type": "line"},
"encoding": {
"color": {"field": "s", "type": "nominal", "scale": {"domain": ["Animal Type (2.1%)","Natural Environment Type (3.2%)","Blood Injection Injury Type (3.9%)","Situational Type (1.6%)","Other Type (0.3%)"], "range": ["#a6a6a6","#000000","#000000","#a6a6a6","#000000"]}, "legend": {"title": "Specific Phobia Subtypes"}},
"strokeDash": {"field": "s", "type": "nominal", "scale": {"domain": ["Animal Type (2.1%)","Natural Environment Type (3.2%)","Blood Injection Injury Type (3.9%)","Situational Type (1.6%)","Other Type (0.3%)"], "range": [[8,5],[1,0],[2,4],[1,0],[1,0]]}, "legend": {"title": "Specific Phobia Subtypes"}},
"strokeWidth": {"field": "s", "type": "nominal", "scale": {"type": "ordinal", "domain": ["Animal Type (2.1%)","Natural Environment Type (3.2%)","Blood Injection Injury Type (3.9%)","Situational Type (1.6%)","Other Type (0.3%)"], "range": [1.5,1.5,2,1,0.8]}, "legend": {"title": "Specific Phobia Subtypes"}}
}},
{"transform": [{"filter": {"field": "s", "oneOf": ["Other Type (0.3%)"]}}],
"mark": {"type": "point", "shape": "M-1,-1L1,1M-1,1L1,-1", "filled": false, "color": "#000000", "size": 12, "strokeWidth": 1, "opacity": 1}}
]
}
],
"config": {
"font": "Liberation Sans",
"view": {"stroke": "#a0a0a0", "strokeWidth": 1},
"axis": {"labelFont": "Liberation Sans", "labelFontSize": 10, "labelColor": "#000000", "titleFont": "Liberation Sans", "titleFontSize": 11.5, "titleFontWeight": "normal", "titleColor": "#000000", "domainColor": "#000000", "tickColor": "#000000", "tickSize": 4, "labelPadding": 2, "labelFlush": false, "labelOverlap": false},
"axisX": {"grid": false, "titlePadding": 7},
"axisY": {"grid": true, "titlePadding": 4},
"legend": {"orient": "top-left", "offset": 4, "strokeColor": "#000000", "strokeWidth": 1.3, "fillColor": "#ffffff", "padding": 2, "labelFont": "Liberation Sans", "labelFontSize": 8.5, "labelColor": "#000000", "labelLimit": 300, "symbolType": "M-1,0L6,0", "symbolSize": 64, "rowPadding": 0, "titleFont": "Liberation Sans", "titleFontSize": 8.5, "titleFontWeight": "normal", "titleColor": "#000000", "titlePadding": 2, "labelOffset": 22},
"title": {"font": "Liberation Serif", "fontSize": 13, "fontWeight": "bold", "color": "#000000", "offset": 7},
"line": {"strokeCap": "butt"}
}
}
